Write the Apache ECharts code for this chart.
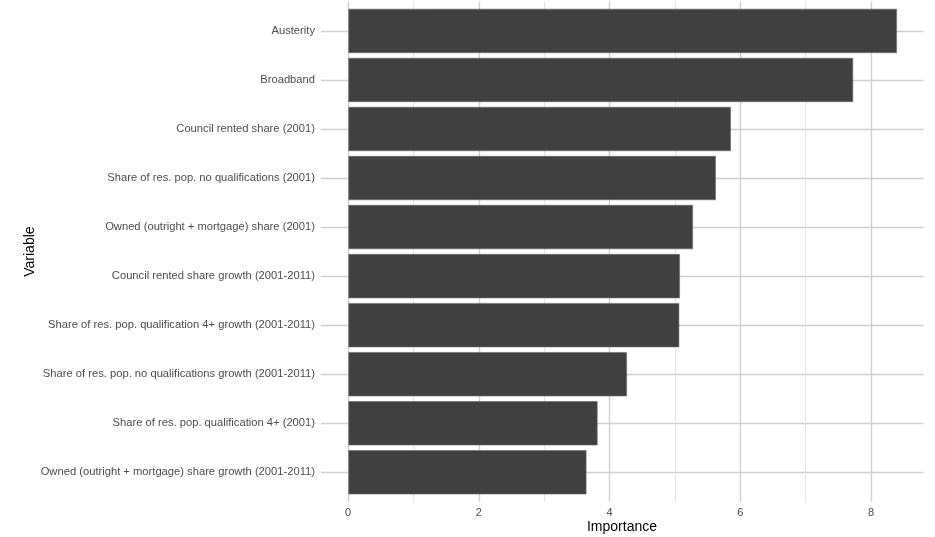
<!DOCTYPE html>
<html>
<head>
<meta charset="utf-8">
<script src="https://cdn.jsdelivr.net/npm/echarts@6/dist/echarts.min.js"></script>
<style>
html,body{margin:0;padding:0;background:#fff;}
#chart{width:935px;height:537px;}
</style>
</head>
<body>
<div id="chart"></div>
<script>
const categories = [
  "Austerity",
  "Broadband",
  "Council rented share (2001)",
  "Share of res. pop. no qualifications (2001)",
  "Owned (outright + mortgage) share (2001)",
  "Council rented share growth (2001-2011)",
  "Share of res. pop. qualification 4+ growth (2001-2011)",
  "Share of res. pop. no qualifications growth (2001-2011)",
  "Share of res. pop. qualification 4+ (2001)",
  "Owned (outright + mortgage) share growth (2001-2011)"
];
const importance = [8.39, 7.72, 5.85, 5.62, 5.27, 5.07, 5.06, 4.26, 3.81, 3.64];
const xTicks = [0, 2, 4, 6, 8];

const FONT = "Liberation Sans, Arial, sans-serif";
const chart = echarts.init(document.getElementById('chart'));
chart.setOption({
  animation: false,
  backgroundColor: '#ffffff',
  grid: [
    {left: 321, right: 11.3, top: 6.4, bottom: 40.2},
    {left: 348, right: 64, top: 1.5, bottom: 35.3},
    {left: 321, right: 11.3, top: 30.9, bottom: 64.7}
  ],
  xAxis: [
    {gridIndex: 0, type: 'value', min: -0.42, max: 8.8, show: false},
    {gridIndex: 1, type: 'value', min: xTicks[0], max: xTicks[xTicks.length-1], interval: 2,
     axisLine: {show: false}, axisTick: {show: false},
     axisLabel: {color: '#4d4d4d', fontSize: 11, fontFamily: FONT, margin: 6},
     splitLine: {show: true, lineStyle: {color: '#d0d0d0', width: 1.4}},
     minorTick: {show: false, splitNumber: 2},
     minorSplitLine: {show: true, lineStyle: {color: '#e4e4e4', width: 1}}},
    {gridIndex: 2, type: 'value', min: 0, max: 1, show: false}
  ],
  yAxis: [
    {gridIndex: 0, type: 'category', data: categories, inverse: true,
     axisLine: {show: false}, axisTick: {show: false},
     axisLabel: {color: '#4d4d4d', fontSize: 11.2, fontFamily: FONT, margin: 6},
     splitLine: {show: false}},
    {gridIndex: 1, type: 'value', show: false, min: 0, max: 1},
    {gridIndex: 2, type: 'category', data: categories, inverse: true, boundaryGap: false,
     axisLine: {show: false}, axisTick: {show: false}, axisLabel: {show: false},
     splitLine: {show: true, lineStyle: {color: '#d0d0d0', width: 1.4}}}
  ],
  series: [{
    type: 'bar',
    xAxisIndex: 0, yAxisIndex: 0,
    data: importance,
    barCategoryGap: '10%',
    itemStyle: {color: '#404040', borderColor: '#6a6a6a', borderWidth: 0.6},
    z: 5
  }],
  graphic: [
    {type: 'text', x: 622, y: 527,
     style: {text: 'Importance', fontSize: 14, fontFamily: FONT, fill: '#000', align: 'center', verticalAlign: 'middle'}},
    {type: 'text', x: 30, y: 251.6, rotation: Math.PI/2,
     style: {text: 'Variable', fontSize: 14, fontFamily: FONT, fill: '#000', align: 'center', verticalAlign: 'middle'}}
  ]
});
</script>
</body>
</html>
